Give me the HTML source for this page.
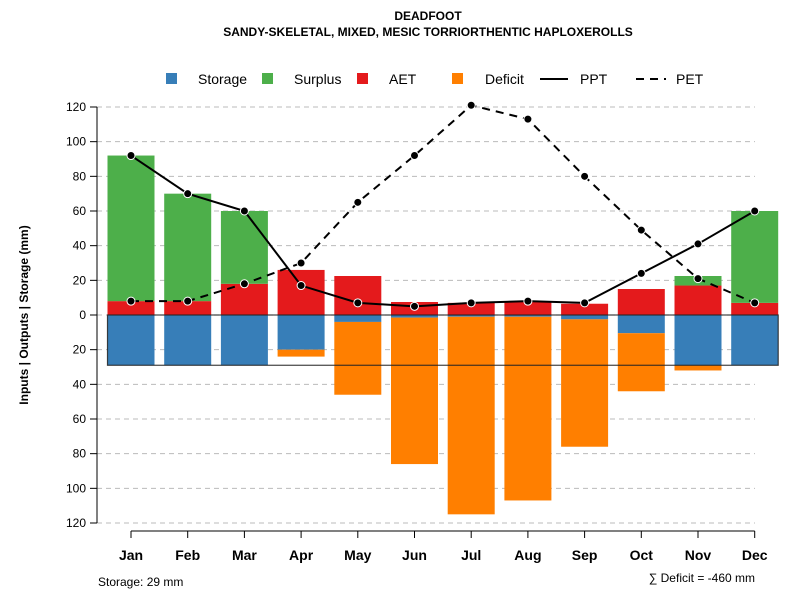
<!DOCTYPE html>
<html><head><meta charset="utf-8"><style>
body{margin:0;background:#fff;font-family:"Liberation Sans",sans-serif}
svg text{font-family:"Liberation Sans",sans-serif}
</style></head><body>
<svg id="c" width="800" height="600" xmlns="http://www.w3.org/2000/svg">
<text x="428" y="20" text-anchor="middle" font-size="12" font-weight="bold">DEADFOOT</text>
<text x="428" y="36" text-anchor="middle" font-size="12" font-weight="bold">SANDY-SKELETAL, MIXED, MESIC TORRIORTHENTIC HAPLOXEROLLS</text>
<g font-size="14">
<rect x="166" y="73" width="11" height="11" fill="#377eb8"/><text x="198" y="84">Storage</text>
<rect x="262" y="73" width="11" height="11" fill="#4daf4a"/><text x="294" y="84">Surplus</text>
<rect x="357" y="73" width="11" height="11" fill="#e41a1c"/><text x="389" y="84">AET</text>
<rect x="452" y="73" width="11" height="11" fill="#ff7f00"/><text x="485" y="84">Deficit</text>
<line x1="540" y1="79" x2="568" y2="79" stroke="#000" stroke-width="2"/><text x="580" y="84">PPT</text>
<line x1="636" y1="79" x2="666" y2="79" stroke="#000" stroke-width="2" stroke-dasharray="8,6"/><text x="676" y="84">PET</text>
</g>
<g id="grid"></g><g id="bars"></g><g id="lines"></g><g id="axes"></g>
<text transform="translate(28,315) rotate(-90)" text-anchor="middle" font-size="12" font-weight="bold">Inputs | Outputs | Storage    (mm)</text>
<text x="98" y="586" font-size="12">Storage: 29 mm</text>
<text x="755" y="582" text-anchor="end" font-size="12">∑ Deficit = -460 mm</text>
</svg>
<script>
const months=["Jan","Feb","Mar","Apr","May","Jun","Jul","Aug","Sep","Oct","Nov","Dec"];
const ppt=[92,70,60,17,7,5,7,8,7,24,41,60];
const pet=[8,8,18,30,65,92,121,113,80,49,21,7];
const aet=[8,8,18,26,22.5,7.5,7,8,6.5,15,17,7];
const surplus=[84,62,42,0,0,0,0,0,0,0,5.5,53];
const storage=[29,29,29,20,4,1.5,1,1,2.5,10.5,29,29];
const deficit=[0,0,0,4,42,84.5,114,106,73.5,33.5,3,0];
const yTicks=[120,100,80,60,40,20,0,-20,-40,-60,-80,-100,-120];
const storageCap=29;
const NS="http://www.w3.org/2000/svg";
const y=v=>315-v*208/120;
const x=i=>131+i*56.7;
const bw=47;
function mk(tag,attrs,parent){const e=document.createElementNS(NS,tag);for(const k in attrs)e.setAttribute(k,attrs[k]);document.getElementById(parent).appendChild(e);return e;}
yTicks.forEach(t=>{
 const g=mk("line",{x1:97,x2:755,y1:y(t),y2:y(t),stroke:"#bbb","stroke-dasharray":"5,4"},"grid");
 
 
 const tk=mk("line",{x1:90,x2:97,y1:y(t),y2:y(t),stroke:"#000"},"axes");
 
 
 const l=mk("text",{x:86,y:y(t)+4,"text-anchor":"end","font-size":12},"axes");
 l.textContent=Math.abs(t);
 
 
});
const ya=mk("line",{x1:97,x2:97,y1:y(120),y2:y(-120),stroke:"#000"},"axes");


const xa=mk("line",{x1:x(0),x2:x(11),y1:y(-120)+8,y2:y(-120)+8,stroke:"#000"},"axes");


months.forEach((m,i)=>{
 const tk=mk("line",{x1:x(i),x2:x(i),y1:y(-120)+8,y2:y(-120)+15,stroke:"#000"},"axes");
 
 
 const l=mk("text",{x:x(i),y:560,"text-anchor":"middle","font-size":14,"font-weight":"bold"},"axes");
 l.textContent=m;
 
 
 const bx=x(i)-bw/2;
 const r1=mk("rect",{x:bx,y:y(aet[i]),width:bw,height:y(0)-y(aet[i]),fill:"#e41a1c"},"bars");
 
 
 if(surplus[i]>0){const r=mk("rect",{x:bx,y:y(aet[i]+surplus[i]),width:bw,height:y(aet[i])-y(aet[i]+surplus[i]),fill:"#4daf4a"},"bars");
 
 }
 const r2=mk("rect",{x:bx,y:y(0),width:bw,height:y(-storage[i])-y(0),fill:"#377eb8"},"bars");
 
 
 if(deficit[i]>0){const r=mk("rect",{x:bx,y:y(-storage[i]),width:bw,height:y(-storage[i]-deficit[i])-y(-storage[i]),fill:"#ff7f00"},"bars");
 
 }
});
const sb=mk("rect",{x:x(0)-bw/2,y:y(0),width:x(11)+bw/2-(x(0)-bw/2),height:y(-storageCap)-y(0),fill:"none",stroke:"#222","stroke-width":1.2,"stroke-opacity":0.85},"bars");


function series(arr,name,dash){
 const p=mk("path",{d:arr.map((v,i)=>(i?"L":"M")+x(i)+","+y(v)).join(""),fill:"none",stroke:"#000","stroke-width":2,"stroke-dasharray":dash},"lines");
 
 
 arr.forEach((v,i)=>{const c=mk("circle",{cx:x(i),cy:y(v),r:4,fill:"#000",stroke:"#fff","stroke-width":1},"lines");
 
 });
}
series(ppt,"ppt","none");
series(pet,"pet","8,6");
</script>
</body></html>
